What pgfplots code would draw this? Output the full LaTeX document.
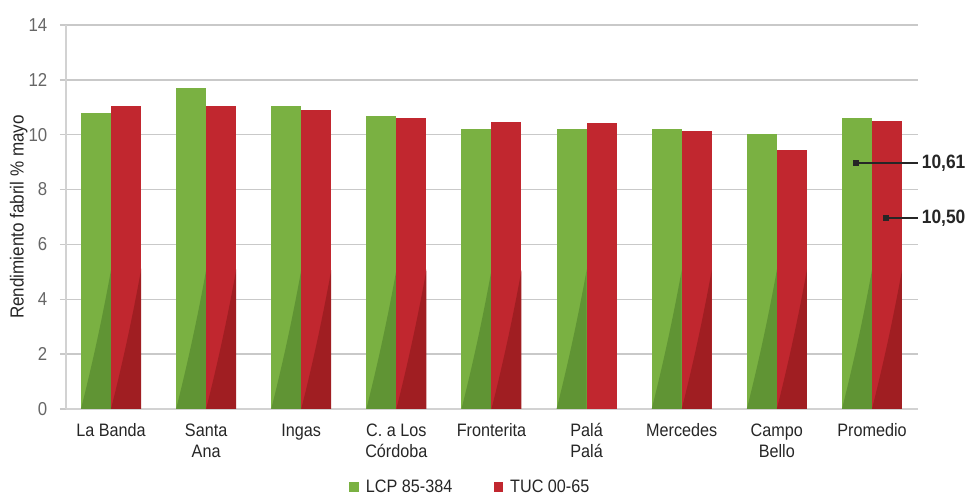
\documentclass[border=0pt]{standalone}
\usepackage{fontspec}
\setmainfont{Liberation Sans}[FakeStretch=0.9]
\usepackage{pgfplots}
\pgfplotsset{compat=1.18}
\usetikzlibrary{calc}

\definecolor{lcp}{HTML}{7AB142}
\definecolor{lcpdark}{HTML}{609434}
\definecolor{tuc}{HTML}{C1272F}
\definecolor{tucdark}{HTML}{A01E22}
\definecolor{gridc}{HTML}{C9C9C9}
\definecolor{axisc}{HTML}{D2D2D2}
\definecolor{txt}{HTML}{262626}
\definecolor{ticktxt}{HTML}{666666}

% vertical extent of the darker foot wedge (in the bar's own drawing units)
\newcommand\wedgeh{630pt}

% darker curved wedge at the foot of a bar
\tikzset{
  lowshade/.style={path picture={
    \fill[#1, path picture={}]
      (path picture bounding box.south west)
      .. controls ($(path picture bounding box.south west)!0.45!(path picture bounding box.south east)+(0,0.276*\wedgeh)$)
      and ($(path picture bounding box.south east)+(0,0.552*\wedgeh)$)
      .. ($(path picture bounding box.south east)+(0,\wedgeh)$)
      -- (path picture bounding box.south east) -- cycle;
  }},
}

% Rendimiento fabril (% mayo) by locality
\pgfplotstableread{
x   lcp    tuc
0   10.79  11.05
1   11.70  11.05
2   11.05  10.90
3   10.68  10.61
4   10.21  10.46
5   10.21  10.43
6   10.21  10.13
7   10.03   9.44
8   10.61  10.50
}\rendimiento

\begin{document}
\begin{tikzpicture}
\begin{axis}[
  name=ax,
  scale only axis,
  width=639pt, height=288pt,
  ybar,
  bar width=0.3155,
  xmin=-0.473, xmax=8.484,
  ymin=0, ymax=14,
  ytick={0,2,...,14},
  xtick={0,...,8},
  xticklabels={La Banda, Santa\\Ana, Ingas, C. a Los\\Córdoba, Fronterita, Palá\\Palá, Mercedes, Campo\\Bello, Promedio},
  x tick label style={align=center, font=\fontsize{13.5}{15.75}\selectfont, text=txt, yshift=-3pt},
  y tick label style={font=\fontsize{14}{16}\selectfont, text=ticktxt, xshift=-6pt},
  /pgf/number format/assume math mode=true,
  ymajorgrids,
  grid style={gridc, line width=1.1pt},
  axis x line*=bottom,
  axis y line*=left,
  x axis line style={axisc, line width=1.5pt, -},
  y axis line style={axisc, line width=1.5pt, -},
  major x tick style={draw=none},
  major y tick style={gridc, line width=1.1pt},
  tick align=outside,
  major tick length=4.5pt,
  ylabel={Rendimiento fabril \% mayo},
  ylabel style={font=\fontsize{14.2}{16}\selectfont, text=txt},
  ylabel shift=-6pt,
  clip=false,
  legend style={at={(0.475,-0.203)}, anchor=center, draw=none, fill=none,
    legend columns=2, font=\fontsize{13.5}{15}\selectfont, text=txt,
    /tikz/every even column/.append style={column sep=29pt}},
]
\addlegendimage{legend image code/.code={\fill[lcp] (0pt,-3.4pt) rectangle (6.4pt,3.4pt); \path (10pt,0pt);}}
\addlegendentry{LCP 85-384}
\addlegendimage{legend image code/.code={\fill[tuc] (0pt,-3.4pt) rectangle (6.4pt,3.4pt); \path (10pt,0pt);}}
\addlegendentry{TUC 00-65}

% one plot per bar, so each bar gets its own foot wedge
\pgfplotsinvokeforeach{0,...,8}{
  \addplot[forget plot, draw=none, fill=lcp, bar shift=-0.15775, lowshade=lcpdark,
    x filter/.expression={abs(x-#1)<0.2 ? x : nan}]
    table[x=x, y=lcp] {\rendimiento};
}
\pgfplotsinvokeforeach{0,1,2,3,4,6,7,8}{
  \addplot[forget plot, draw=none, fill=tuc, bar shift=0.15775, lowshade=tucdark,
    x filter/.expression={abs(x-#1)<0.2 ? x : nan}]
    table[x=x, y=tuc] {\rendimiento};
}
\addplot[forget plot, draw=none, fill=tuc, bar shift=0.15775,
  x filter/.expression={abs(x-5)<0.2 ? x : nan}]
  table[x=x, y=tuc] {\rendimiento};

% callouts for the Promedio bars
\addplot[forget plot, sharp plot, txt, line width=1.1pt, mark=square*, mark size=1.6pt, mark indices={1}]
  coordinates {(7.832,8.97) (8.484,8.97)}
  node[pos=1, anchor=west, xshift=-1pt, font=\bfseries\fontsize{14.5}{16}\selectfont, text=txt] {10,61};
\addplot[forget plot, sharp plot, txt, line width=1.1pt, mark=square*, mark size=1.6pt, mark indices={1}]
  coordinates {(8.147,6.96) (8.484,6.96)}
  node[pos=1, anchor=west, xshift=-1pt, font=\bfseries\fontsize{14.5}{16}\selectfont, text=txt] {10,50};

\coordinate (ll) at (rel axis cs:0,0);
\coordinate (ur) at (rel axis cs:1,1);
\end{axis}
\pgfresetboundingbox
\path ($(ll)+(-49.5pt,-64.5pt)$) rectangle ($(ur)+(37.5pt,18.75pt)$);
\end{tikzpicture}
\end{document}
